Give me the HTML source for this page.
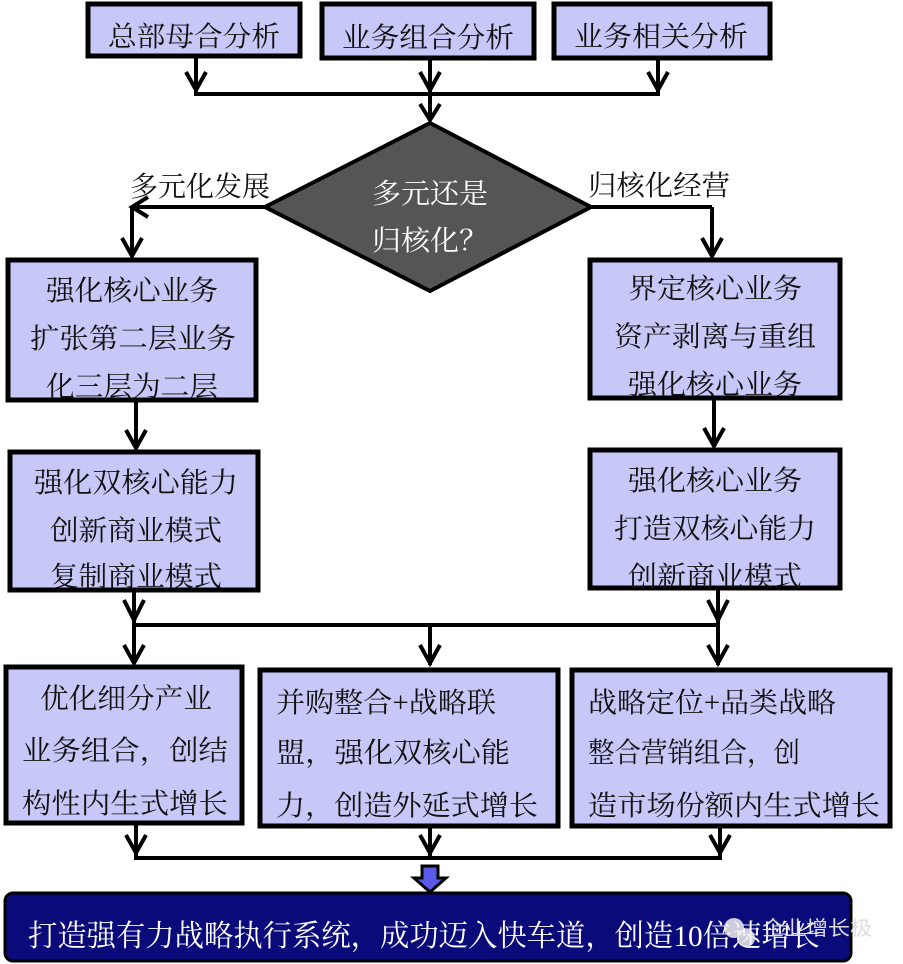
<!DOCTYPE html>
<html><head><meta charset="utf-8"><style>
html,body{margin:0;padding:0;background:#fff;}
svg{display:block;}
text{font-family:"Liberation Serif","Noto Serif CJK SC",serif;font-size:28px;fill:#111;}
</style></head><body>
<svg width="903" height="964" viewBox="0 0 903 964" xmlns="http://www.w3.org/2000/svg">
<defs>
<marker id="a" markerWidth="10" markerHeight="10" refX="8" refY="5" orient="auto" markerUnits="userSpaceOnUse" viewBox="0 0 10 10">
</marker>
</defs>
<g fill="#c8c8f8" stroke="#000" stroke-width="5">
<rect x="88" y="4" width="212" height="52"/>
<rect x="322" y="4" width="212" height="54"/>
<rect x="554" y="4" width="216" height="54"/>
<rect x="8" y="260" width="248" height="140"/>
<rect x="10" y="452" width="248" height="138"/>
<rect x="590" y="260" width="250" height="138"/>
<rect x="590" y="450" width="250" height="138"/>
<rect x="6" y="667" width="236" height="156"/>
<rect x="260" y="670" width="298" height="156"/>
<rect x="572" y="670" width="318" height="156"/>
</g>
<polygon points="430,123 591,207 430,291 265,207" fill="#555" stroke="#000" stroke-width="4"/>
<g stroke="#000" stroke-width="4" fill="none">
<line x1="196" y1="58" x2="196" y2="92"/><line x1="430" y1="60" x2="430" y2="120"/><line x1="658" y1="60" x2="658" y2="92"/>
<line x1="194" y1="94" x2="660" y2="94"/>
<line x1="265" y1="207" x2="132" y2="207"/><line x1="132" y1="207" x2="132" y2="256"/>
<line x1="591" y1="207" x2="712" y2="207"/><line x1="712" y1="207" x2="712" y2="256"/>
<line x1="136" y1="402" x2="136" y2="448"/><line x1="714" y1="400" x2="714" y2="446"/>
<line x1="134" y1="592" x2="134" y2="663"/><line x1="718" y1="590" x2="718" y2="665"/>
<line x1="132" y1="625" x2="720" y2="625"/><line x1="430" y1="625" x2="430" y2="665"/>
<line x1="136" y1="825" x2="136" y2="857"/><line x1="430" y1="828" x2="430" y2="857"/><line x1="720" y1="828" x2="720" y2="857"/>
<line x1="134" y1="858" x2="722" y2="858"/>
</g>
<g stroke="#000" stroke-width="4" fill="none" stroke-linejoin="miter">
<polyline points="186,72 196,90 206,72"/><polyline points="420,72 430,90 440,72"/><polyline points="648,72 658,90 668,72"/>
<polyline points="420,104 430,120 440,104"/>
<polyline points="148,197 132,207 148,217"/>
<polyline points="122,238 132,256 142,238"/><polyline points="702,238 712,256 722,238"/>
<polyline points="126,430 136,448 146,430"/><polyline points="704,428 714,446 724,428"/>
<polyline points="124,600 134,620 144,600"/><polyline points="708,600 718,620 728,600"/>
<polyline points="124,645 134,663 144,645"/><polyline points="420,645 430,663 440,645"/><polyline points="708,645 718,663 728,645"/>
<polyline points="126,835 136,853 146,835"/><polyline points="420,835 430,853 440,835"/><polyline points="710,835 720,853 730,835"/>
</g>
<polygon points="422,866 438,866 438,878 446,878 430,892 414,878 422,878" fill="#5a5ae8" stroke="#000" stroke-width="3"/>
<rect x="5" y="893" width="846" height="68" rx="8" fill="#0a0a7a" stroke="#000" stroke-width="3"/>
<g lengthAdjust="spacingAndGlyphs">
<text x="108" y="46" textLength="172" lengthAdjust="spacingAndGlyphs">总部母合分析</text>
<text x="342" y="47" textLength="172" lengthAdjust="spacingAndGlyphs">业务组合分析</text>
<text x="574" y="46" textLength="174" lengthAdjust="spacingAndGlyphs">业务相关分析</text>
<text x="130" y="196" textLength="140" lengthAdjust="spacingAndGlyphs">多元化发展</text>
<text x="588" y="195" textLength="142" lengthAdjust="spacingAndGlyphs">归核化经营</text>
<text x="372" y="203" textLength="116" lengthAdjust="spacingAndGlyphs" style="fill:#fff">多元还是</text>
<text x="372" y="250" textLength="116" lengthAdjust="spacingAndGlyphs" style="fill:#fff">归核化？</text>
<text x="46" y="300" textLength="172" lengthAdjust="spacingAndGlyphs">强化核心业务</text>
<text x="30" y="348" textLength="206" lengthAdjust="spacingAndGlyphs">扩张第二层业务</text>
<text x="46" y="396" textLength="172" lengthAdjust="spacingAndGlyphs">化三层为二层</text>
<text x="34" y="492" textLength="204" lengthAdjust="spacingAndGlyphs">强化双核心能力</text>
<text x="50" y="540" textLength="172" lengthAdjust="spacingAndGlyphs">创新商业模式</text>
<text x="50" y="586" textLength="172" lengthAdjust="spacingAndGlyphs">复制商业模式</text>
<text x="628" y="298" textLength="174" lengthAdjust="spacingAndGlyphs">界定核心业务</text>
<text x="614" y="346" textLength="202" lengthAdjust="spacingAndGlyphs">资产剥离与重组</text>
<text x="628" y="394" textLength="174" lengthAdjust="spacingAndGlyphs">强化核心业务</text>
<text x="628" y="490" textLength="174" lengthAdjust="spacingAndGlyphs">强化核心业务</text>
<text x="614" y="538" textLength="202" lengthAdjust="spacingAndGlyphs">打造双核心能力</text>
<text x="628" y="586" textLength="174" lengthAdjust="spacingAndGlyphs">创新商业模式</text>
<text x="40" y="708" textLength="172" lengthAdjust="spacingAndGlyphs">优化细分产业</text>
<text x="22" y="760" textLength="206" lengthAdjust="spacingAndGlyphs">业务组合，创结</text>
<text x="22" y="813" textLength="206" lengthAdjust="spacingAndGlyphs">构性内生式增长</text>
<text x="276" y="712" textLength="220" lengthAdjust="spacingAndGlyphs">并购整合+战略联</text>
<text x="276" y="762" textLength="234" lengthAdjust="spacingAndGlyphs">盟，强化双核心能</text>
<text x="276" y="815" textLength="262" lengthAdjust="spacingAndGlyphs">力，创造外延式增长</text>
<text x="588" y="712" textLength="248" lengthAdjust="spacingAndGlyphs">战略定位+品类战略</text>
<text x="588" y="762" textLength="212" lengthAdjust="spacingAndGlyphs">整合营销组合，创</text>
<text x="588" y="815" textLength="292" lengthAdjust="spacingAndGlyphs">造市场份额内生式增长</text>
<text x="28" y="946" textLength="792" lengthAdjust="spacingAndGlyphs" style="fill:#fff;font-size:30px">打造强有力战略执行系统，成功迈入快车道，创造10倍速增长</text>
<text x="762" y="935" textLength="110" lengthAdjust="spacingAndGlyphs" style="fill:#ddd;font-size:20px;font-family:'Liberation Sans','Noto Sans CJK SC',sans-serif">企业增长极</text>
</g>
<circle cx="734" cy="928" r="10" fill="#eee" opacity="0.85"/>
<circle cx="746" cy="938" r="9" fill="#eee" opacity="0.85"/>
</svg>
</body></html>
